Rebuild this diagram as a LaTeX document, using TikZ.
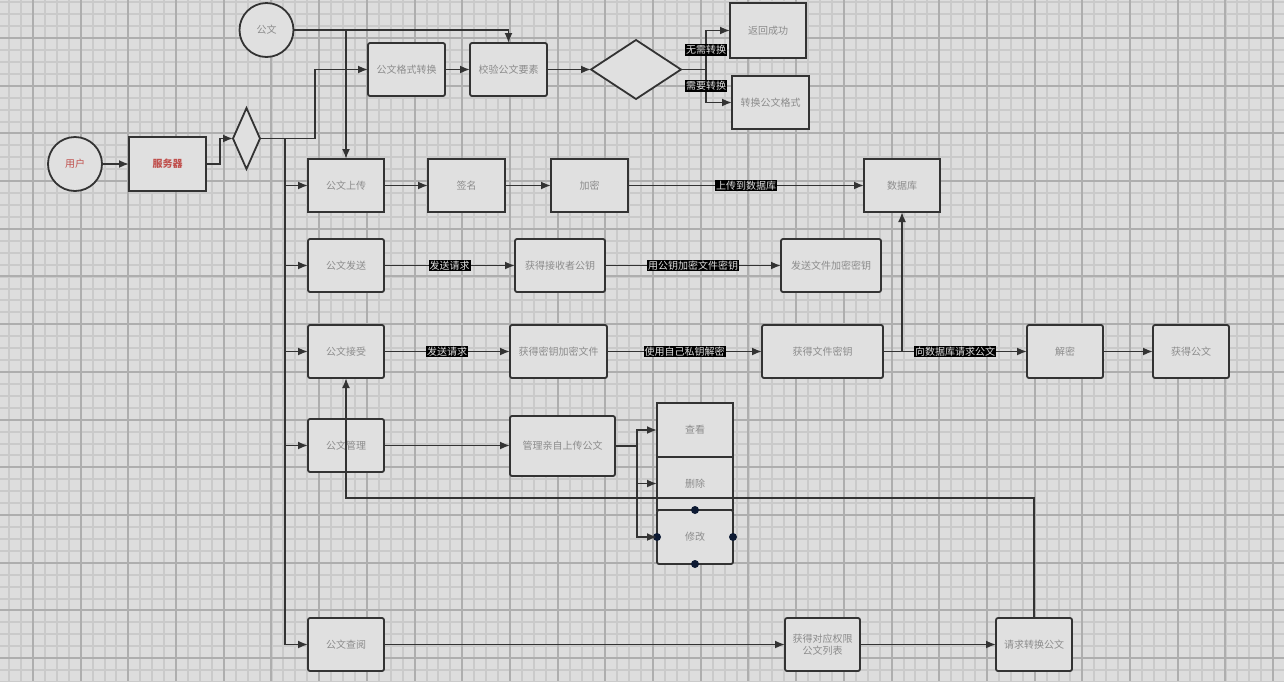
\documentclass[tikz,border=0pt]{standalone}
\usepackage{fontspec}
\newfontfamily\cjk{Noto Sans CJK SC}
\usetikzlibrary{shapes.geometric,arrows.meta}
\definecolor{bg}{HTML}{DDDDDD}
\definecolor{minorg}{HTML}{CACACA}
\definecolor{majorg}{HTML}{AEAEAE}
\definecolor{edge}{HTML}{333333}
\definecolor{boxfill}{HTML}{E0E0E0}
\definecolor{txt}{HTML}{8C8C8C}
\definecolor{redtxt}{HTML}{C0504D}
\definecolor{dotc}{HTML}{0D1A33}
\tikzset{
  every node/.style={font=\cjk\fontsize{10}{12}\selectfont},
  box/.style={draw=edge, line width=1.8pt, fill=boxfill, rounded corners=2pt, text=txt, inner sep=0pt, outer sep=0pt, align=center},
  sqbox/.style={box, rounded corners=0pt},
  circ/.style={draw=edge, line width=1.8pt, fill=boxfill, circle, text=txt, inner sep=0pt, outer sep=0pt},
  dia/.style={draw=edge, line width=1.8pt, fill=boxfill, diamond, inner sep=0pt, outer sep=0pt},
  conn/.style={draw=edge, line width=1.8pt},
  arr/.style={conn, -{Latex[length=10pt,width=8pt]}},
  lab/.style={fill=black, text=white!88!black, inner sep=1pt},
  minorl/.style={draw=minorg, line width=1.1pt},
  majorl/.style={draw=majorg, line width=1.4pt},
}
\begin{document}
\begin{tikzpicture}[x=1pt,y=-1pt]
\useasboundingbox (0,0) rectangle (1284,681);
\fill[bg] (0,0) rectangle (1284,681);
\begin{scope}
\clip (0,0) rectangle (1284,681);
\foreach \i in {0,...,110} {\draw[minorl] ({round(-14.7+11.925*\i)},0) -- ++(0,681);}
\foreach \i in {0,...,60} {\draw[minorl] (0,{round(2.3+11.925*\i)}) -- ++(1284,0);}
\foreach \i in {0,...,28} {\draw[majorl] ({round(-14.7+47.7*\i)},0) -- ++(0,681);}
\foreach \i in {0,...,15} {\draw[majorl] (0,{round(-9.7+47.7*\i)}) -- ++(1284,0);}
\end{scope}

% nodes
\node[circ, minimum size=54pt] (gw) at (266.5,30) {公文};
\node[circ, minimum size=54pt, text=redtxt] (user) at (75,164) {用户};
\node[sqbox, minimum width=77pt, minimum height=54pt, text=redtxt] (srv) at (167.5,164) {\textbf{服务器}};
\node[dia, minimum width=27pt, minimum height=61pt] (d1) at (246.5,138.5) {};
\node[box, minimum width=77pt, minimum height=53pt] (fmt) at (406.5,69.5) {公文格式转换};
\node[box, minimum width=77pt, minimum height=53pt] (chk) at (508.5,69.5) {校验公文要素};
\node[dia, minimum width=90pt, minimum height=59pt] (d2) at (636,69.5) {};
\node[sqbox, minimum width=76pt, minimum height=55pt] (ok) at (768,30.5) {返回成功};
\node[sqbox, minimum width=77pt, minimum height=53pt] (conv) at (770.5,102.5) {转换公文格式};
\node[sqbox, minimum width=76pt, minimum height=53pt] (up) at (346,185.5) {公文上传};
\node[sqbox, minimum width=77pt, minimum height=53pt] (sign) at (466.5,185.5) {签名};
\node[sqbox, minimum width=77pt, minimum height=53pt] (enc) at (589.5,185.5) {加密};
\node[sqbox, minimum width=76pt, minimum height=53pt] (db) at (902,185.5) {数据库};
\node[box, minimum width=76pt, minimum height=53pt] (send) at (346,265.5) {公文发送};
\node[box, minimum width=90pt, minimum height=53pt] (pk) at (560,265.5) {获得接收者公钥};
\node[box, minimum width=100pt, minimum height=53pt] (skey) at (831,265.5) {发送文件加密密钥};
\node[box, minimum width=76pt, minimum height=53pt] (recv) at (346,351.5) {公文接受};
\node[box, minimum width=97pt, minimum height=53pt] (gk) at (558.5,351.5) {获得密钥加密文件};
\node[box, minimum width=121pt, minimum height=53pt] (fk) at (822.5,351.5) {获得文件密钥};
\node[box, minimum width=76pt, minimum height=53pt] (dec) at (1065,351.5) {解密};
\node[box, minimum width=76pt, minimum height=53pt] (getdoc) at (1191,351.5) {获得公文};
\node[box, minimum width=76pt, minimum height=53pt] (mgr) at (346,445.5) {公文管理};
\node[box, minimum width=105pt, minimum height=60pt] (own) at (562.5,446) {管理亲自上传公文};
\node[sqbox, minimum width=76pt, minimum height=54pt] (view) at (695,430) {查看};
\node[sqbox, minimum width=76pt, minimum height=53pt] (del) at (695,483.5) {删除};
\node[box, minimum width=76pt, minimum height=54pt] (mod) at (695,537) {修改};
\node[box, minimum width=76pt, minimum height=53pt] (query) at (346,644.5) {公文查阅};
\node[box, minimum width=75pt, minimum height=53pt] (perm) at (822.5,644.5) {获得对应权限\\公文列表};
\node[box, minimum width=76pt, minimum height=53pt] (req) at (1034,644.5) {请求转换公文};

\foreach \a in {north,south,east,west} {\fill[dotc] (mod.\a) circle (4);}

% coordinates
\coordinate (b1) at (220,164);
\coordinate (tt) at (285,138.5);
\coordinate (tb) at (285,644.5);
\coordinate (fb) at (315,138.5);
\coordinate (b2) at (706,69.5);
\coordinate (b3) at (637,446);
\coordinate (rb) at (1034,498);

% connectors
\draw[arr] (user) -- (srv);
\draw[arr] (srv.east) -- (b1) |- (d1.west);
\draw[conn] (d1.east) -- (tt) -- (tb);
\draw[arr] (tt) -- (fb) |- (fmt.west);
\draw[arr] (up.west -| tt) -- (up.west);
\draw[arr] (send.west -| tt) -- (send.west);
\draw[arr] (recv.west -| tt) -- (recv.west);
\draw[arr] (mgr.west -| tt) -- (mgr.west);
\draw[arr] (tb) -- (query.west);
\draw[arr] (gw.east) -| (chk.north);
\draw[arr] (gw.east -| up.north) -- (up.north);
\draw[arr] (fmt) -- (chk);
\draw[arr] (chk) -- (d2);
\draw[arr] (d2.east) -- (b2) |- node[lab, pos=0.25] {无需转换} (ok.west);
\draw[arr] (b2) |- node[lab, pos=0.25] {需要转换} (conv.west);
\draw[arr] (up) -- (sign);
\draw[arr] (sign) -- (enc);
\draw[arr] (enc) -- node[lab] {上传到数据库} (db);
\draw[arr] (send) -- node[lab] {发送请求} (pk);
\draw[arr] (pk) -- node[lab] {用公钥加密文件密钥} (skey);
\draw[arr] (recv) -- node[lab] {发送请求} (gk);
\draw[arr] (gk) -- node[lab] {使用自己私钥解密} (fk);
\draw[arr] (fk) -- node[lab] {向数据库请求公文} (dec);
\draw[arr] (fk.east -| db.south) -- (db.south);
\draw[arr] (dec) -- (getdoc);
\draw[arr] (mgr.east) -- (own.west |- mgr.east);
\draw[conn] (own.east |- b3) -- (b3);
\draw[arr] (b3) |- (view.west);
\draw[arr] (b3) |- (del.west);
\draw[arr] (b3) |- (mod.west);
\draw[arr] (query) -- (perm);
\draw[arr] (perm) -- (req);
\draw[arr] (req.north) -- (rb) -| (recv.south);
\end{tikzpicture}
\end{document}
